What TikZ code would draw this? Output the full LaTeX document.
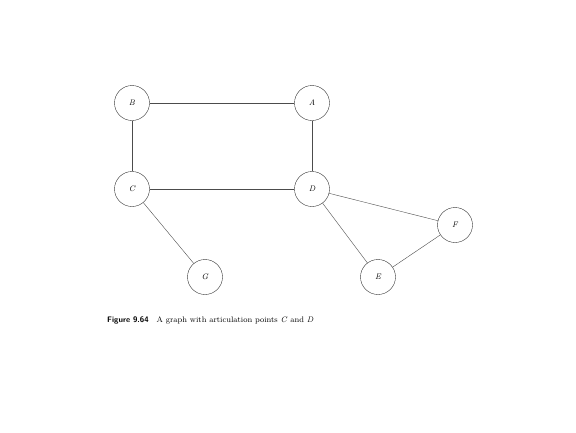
\documentclass[tikz,border=0pt]{standalone}
\usepackage{tikz}
\usetikzlibrary{positioning}

\begin{document}
\begin{tikzpicture}[x=1pt, y=-1pt,
    every node/.style={font=\fontsize{7}{8}\selectfont},
    vertex/.style={circle, draw=black!80, thin, minimum size=35pt, inner sep=0pt, font=\fontsize{8}{9}\selectfont\itshape},
    edge/.style={draw=black!70, thin}
]
\useasboundingbox (0,0) rectangle (576,432);

\node[vertex] (B) at (132,103) {B};
\node[vertex] (A) at (312,103) {A};
\node[vertex] (C) at (132,189) {C};
\node[vertex] (D) at (312,189) {D};
\node[vertex] (F) at (455,225) {F};
\node[vertex] (E) at (378,277) {E};
\node[vertex] (G) at (205,277) {G};

\draw[edge] (B) -- (A);
\draw[edge] (B) -- (C);
\draw[edge] (A) -- (D);
\draw[edge] (C) -- (D);
\draw[edge] (C) -- (G);
\draw[edge] (D) -- (F);
\draw[edge] (D) -- (E);
\draw[edge] (E) -- (F);

\node[anchor=west, inner sep=0pt, font=\fontsize{8}{10}\selectfont] (caption) at (107,320)
    {\textsf{\textbf{Figure 9.64}}\quad A graph with articulation points \textit{C} and \textit{D}};
\end{tikzpicture}
\end{document}
